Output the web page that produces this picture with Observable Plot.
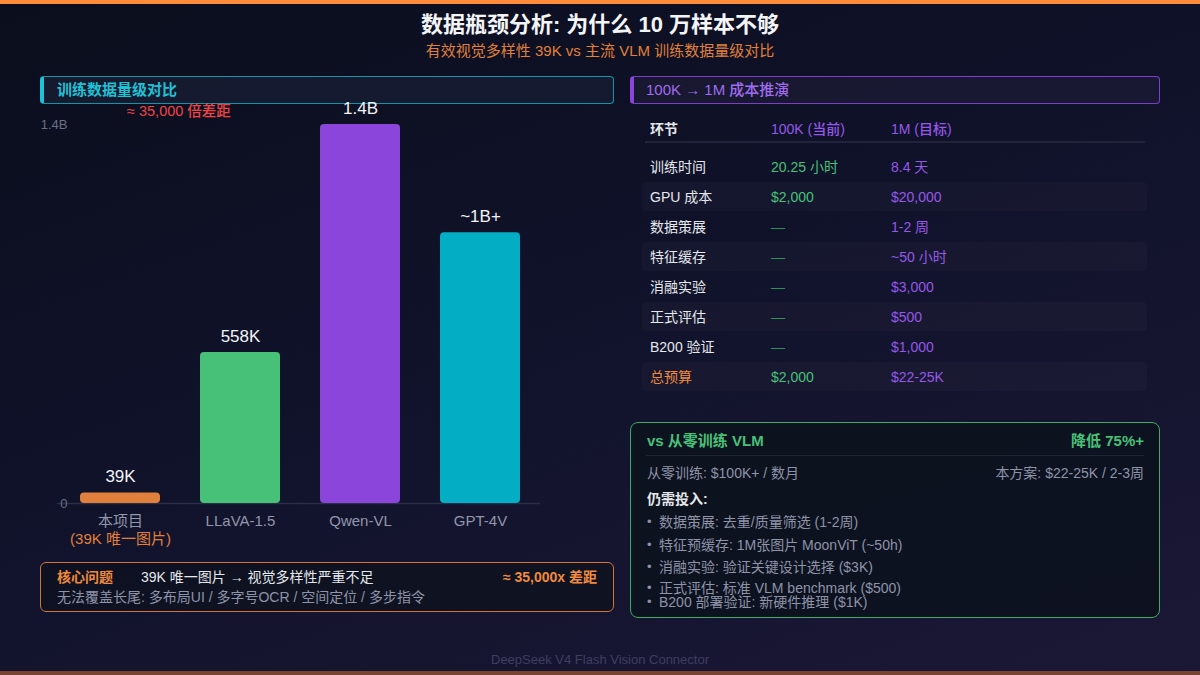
<!DOCTYPE html>
<html>
<head>
<meta charset="utf-8">
<script src="https://cdn.jsdelivr.net/npm/d3@7"></script>
<script src="https://cdn.jsdelivr.net/npm/@observablehq/plot@0.6"></script>
<style>
  html, body { margin: 0; padding: 0; background: #0e1020; }
  #root {
    position: relative; width: 1200px; height: 675px; overflow: hidden;
    background: linear-gradient(160deg, #0b0e1c 0%, #10122a 45%, #1b1836 100%);
    font-family: "Liberation Sans", "Noto Sans CJK SC", sans-serif;
  }
  .abs { position: absolute; white-space: nowrap; }
  .box { position: absolute; box-sizing: border-box; }
  #chart { position: absolute; left: 0; top: 100px; }
</style>
</head>
<body>
<div id="root"></div>
<script>
// ---------------- data ----------------
const categories = ["本项目", "LLaVA-1.5", "Qwen-VL", "GPT-4V"];
const barValues = [39, 558, 1400, 1000];          // bar heights as drawn (scale 0 … 1.4B)
const valueLabels = ["39K", "558K", "1.4B", "~1B+"];
const subLabels = ["(39K 唯一图片)", "", "", ""];
const barColors = ["#e0803a", "#48c178", "#8b45db", "#03adc4"];
const yTicks = [0, 1400];
const yTickLabels = ["0", "1.4B"];

const stages = ["训练时间", "GPU 成本", "数据策展", "特征缓存", "消融实验", "正式评估", "B200 验证", "总预算"];
const current100K = ["20.25 小时", "$2,000", "—", "—", "—", "—", "—", "$2,000"];
const target1M = ["8.4 天", "$20,000", "1-2 周", "~50 小时", "$3,000", "$500", "$1,000", "$22-25K"];
const tableHeader = ["环节", "100K (当前)", "1M (目标)"];

const stillNeeded = [
  "数据策展: 去重/质量筛选 (1-2周)",
  "特征预缓存: 1M张图片 MoonViT (~50h)",
  "消融实验: 验证关键设计选择 ($3K)",
  "正式评估: 标准 VLM benchmark ($500)",
  "B200 部署验证: 新硬件推理 ($1K)"
];

// ---------------- helpers ----------------
const root = document.getElementById("root");
function box(x, y, w, h, css) {
  const d = document.createElement("div");
  d.className = "box";
  Object.assign(d.style, { left: x + "px", top: y + "px", width: w + "px", height: h + "px" }, css || {});
  root.appendChild(d);
  return d;
}
function txt(s, x, y, o = {}) {
  const d = document.createElement("div");
  d.className = "abs";
  d.textContent = s;
  const lh = 24;
  d.style.top = (y - lh / 2) + "px";
  d.style.height = lh + "px";
  d.style.lineHeight = lh + "px";
  d.style.fontSize = (o.size || 14) + "px";
  d.style.color = o.color || "#e5e7eb";
  d.style.fontWeight = o.weight || 400;
  if (o.anchor === "end") d.style.right = (1200 - x) + "px";
  else if (o.anchor === "middle") { d.style.left = x + "px"; d.style.transform = "translateX(-50%)"; }
  else d.style.left = x + "px";
  root.appendChild(d);
  return d;
}

// stripes
box(0, 0, 1200, 4, { background: "#ff8c3a" });
box(0, 671, 1200, 4, { background: "#7a4330" });

// title
txt("数据瓶颈分析: 为什么 10 万样本不够", 600, 25, { size: 22, weight: 700, color: "#f3f4f6", anchor: "middle" });
txt("有效视觉多样性 39K vs 主流 VLM 训练数据量级对比", 600, 51, { size: 15, color: "#e0803a", anchor: "middle" });

// left header
box(40, 76, 574, 28, { background: "rgba(24,28,50,0.85)", border: "1.5px solid #1594a6", borderLeft: "4px solid #1fc1d6", borderRadius: "4px" });
txt("训练数据量级对比", 57, 90, { size: 15, weight: 700, color: "#1fc1d6" });
txt("≈ 35,000 倍差距", 127, 111, { size: 14.5, weight: 500, color: "#ef4444" });

// ---------------- bar chart ----------------
const bars = categories.map((c, i) => ({ cat: c, v: barValues[i], label: valueLabels[i], sub: subLabels[i] }));
const FONT = "Liberation Sans, Noto Sans CJK SC, sans-serif";
const chart = Plot.plot({
  width: 600, height: 450,
  marginTop: 24, marginBottom: 47, marginLeft: 57, marginRight: 60,
  style: { background: "transparent", fontFamily: FONT, overflow: "visible" },
  x: { domain: categories, range: [60, 540], paddingInner: 1 / 3, paddingOuter: 1 / 6, axis: null },
  y: { domain: [0, 1400], axis: null },
  color: { domain: categories, range: barColors },
  marks: [
    Plot.ruleY([0], { stroke: "#2a2e46", strokeWidth: 1.5 }),
    Plot.barY(bars, { x: "cat", y: "v", fill: "cat", rx: 4 }),
    Plot.text(yTicks, { y: d => d, frameAnchor: "left", dx: 10, textAnchor: "end", text: (d, i) => yTickLabels[i], fill: "#6b7085", fontSize: 13, fontFamily: FONT }),
    Plot.text(bars, { x: "cat", y: "v", text: "label", dy: -16, fill: "#f3f4f6", fontSize: 17, fontWeight: 500, fontFamily: FONT }),
    Plot.text(bars, { x: "cat", y: d => 0, text: "cat", dy: 18, fill: "#9297ab", fontSize: 15, fontFamily: FONT }),
    Plot.text(bars, { x: "cat", y: d => 0, text: "sub", dy: 36, fill: "#e0803a", fontSize: 15, fontFamily: FONT })
  ]
});
chart.id = "chart";
root.appendChild(chart);

// bottom-left box
box(40, 562, 574, 50, { background: "rgba(14,18,32,0.9)", border: "1.5px solid #d0743a", borderRadius: "6px" });
txt("核心问题", 57, 577, { size: 14, weight: 700, color: "#f08a3c" });
txt("39K 唯一图片 → 视觉多样性严重不足", 141, 577, { size: 14, color: "#e5e7eb" });
txt("≈ 35,000x 差距", 597, 577, { size: 14, weight: 700, color: "#f08a3c", anchor: "end" });
txt("无法覆盖长尾: 多布局UI / 多字号OCR / 空间定位 / 多步指令", 57, 597, { size: 14, color: "#8e93a8" });

// right header
box(630, 76, 530, 28, { background: "rgba(26,26,52,0.85)", border: "1.5px solid #7a3fce", borderLeft: "4px solid #8b45db", borderRadius: "4px" });
txt("100K → 1M 成本推演", 646, 90, { size: 15, weight: 500, color: "#a06cf0" });

// table
const colX = [650, 771, 891];
txt(tableHeader[0], colX[0], 129, { size: 14, weight: 700, color: "#e5e7eb" });
txt(tableHeader[1], colX[1], 129, { size: 14, weight: 500, color: "#9558e8" });
txt(tableHeader[2], colX[2], 129, { size: 14, weight: 500, color: "#9558e8" });
box(645, 141, 500, 2, { background: "#20233a" });
stages.forEach((s, i) => {
  const y = 167 + 30 * i;
  if (i % 2 === 1) box(642, y - 15, 505, 29, { background: "rgba(255,255,255,0.025)", borderRadius: "4px" });
  const last = i === stages.length - 1;
  txt(s, colX[0], y, { size: 14, color: last ? "#f08a3c" : "#e5e7eb", weight: 400 });
  const cur = current100K[i];
  txt(cur, colX[1], y, { size: 14, color: cur === "—" ? "#2f8f58" : "#48c178" });
  txt(target1M[i], colX[2], y, { size: 14, color: "#9558e8" });
});

// right bottom box
box(630, 422, 530, 196, { background: "rgba(13,18,30,0.92)", border: "1.5px solid #3bab66", borderRadius: "8px" });
txt("vs 从零训练 VLM", 647, 441, { size: 15, weight: 700, color: "#48c178" });
txt("降低 75%+", 1144, 441, { size: 15, weight: 700, color: "#48c178", anchor: "end" });
box(646, 455, 498, 1, { background: "#1e2636" });
txt("从零训练: $100K+ / 数月", 647, 473, { size: 14, color: "#8e93a8" });
txt("本方案: $22-25K / 2-3周", 1144, 473, { size: 14, color: "#8e93a8", anchor: "end" });
txt("仍需投入:", 647, 499, { size: 14, weight: 700, color: "#e5e7eb" });
const bulletY = [522, 545, 567, 588, 602];
stillNeeded.forEach((s, i) => {
  txt("•", 647, bulletY[i], { size: 13, color: "#8e93a8" });
  txt(s, 659, bulletY[i], { size: 14, color: "#8e93a8" });
});

// footer
txt("DeepSeek V4 Flash Vision Connector", 600, 660, { size: 13, color: "#3d3f60", anchor: "middle" });
</script>
</body>
</html>
